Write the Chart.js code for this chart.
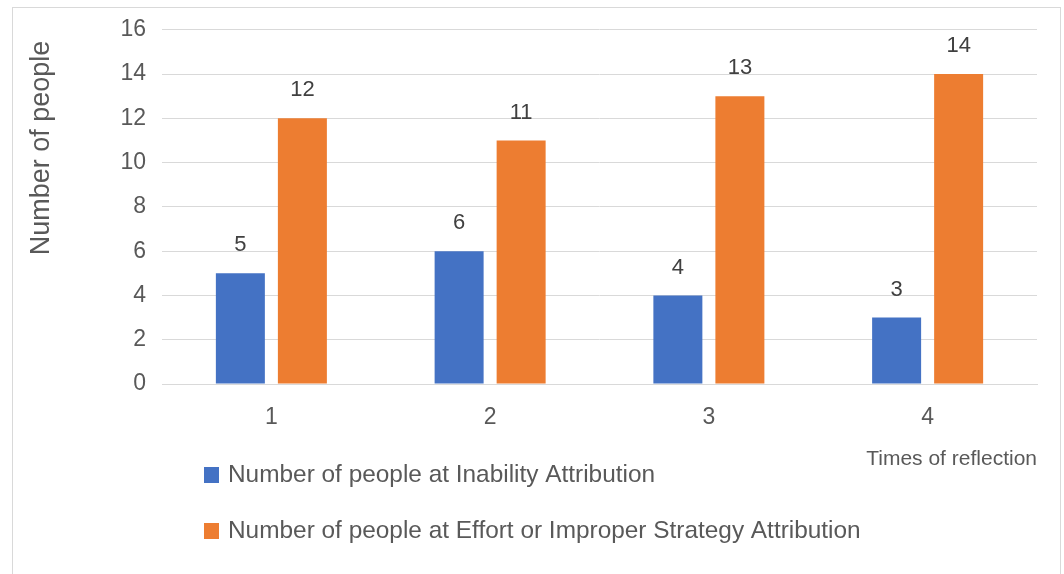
<!DOCTYPE html>
<html>
<head>
<meta charset="utf-8">
<script src="https://cdn.jsdelivr.net/npm/chart.js@4"></script>
<style>
  html, body { margin: 0; padding: 0; background: #fff; overflow: hidden; }
  #frame { position: absolute; left: 12px; top: 7px; width: 1047px; height: 620px; border: 1px solid #d9d9d9; }
  #wrap { position: absolute; left: 0; top: 0; width: 1064px; height: 574px; }
</style>
</head>
<body>
<div id="frame"></div>
<div id="wrap"><canvas id="chart" width="1064" height="574"></canvas></div>
<script>
const categories = ["1", "2", "3", "4"];
const inability = [5, 6, 4, 3];
const effort = [12, 11, 13, 14];
const seriesNames = [
  "Number of people at Inability Attribution",
  "Number of people at Effort or Improper Strategy Attribution"
];
const seriesColors = ["#4472C4", "#ED7D31"];
const yTitle = "Number of people";
const xTitle = "Times of reflection";

const FONT = "'Liberation Sans', Arial, Helvetica, sans-serif";

// value labels above bars, y title and legend drawn by hand
const extras = {
  id: "extras",
  afterDatasetsDraw(chart) {
    const ctx = chart.ctx;
    ctx.save();
    ctx.font = "22px " + FONT;
    ctx.fillStyle = "#404040";
    ctx.textAlign = "center";
    ctx.textBaseline = "middle";
    chart.data.datasets.forEach((ds, i) => {
      chart.getDatasetMeta(i).data.forEach((bar, j) => {
        ctx.fillText(ds.data[j], bar.x, bar.y - 28);
      });
    });
    ctx.restore();
  },
  afterDraw(chart) {
    const ctx = chart.ctx;
    ctx.save();
    // y axis title
    ctx.font = "27px " + FONT;
    ctx.fillStyle = "#595959";
    ctx.translate(42, 148);
    ctx.rotate(-Math.PI / 2);
    ctx.textAlign = "center";
    ctx.textBaseline = "middle";
    ctx.fillText(yTitle, 0, 0);
    ctx.restore();

    // legend
    ctx.save();
    ctx.font = "24.4px " + FONT;
    ctx.textBaseline = "middle";
    ctx.textAlign = "left";
    chart.data.datasets.forEach((ds, i) => {
      const y = 475 + i * 56;
      ctx.fillStyle = ds.backgroundColor;
      ctx.fillRect(204, y - 8, 15, 16);
      ctx.fillStyle = "#595959";
      ctx.fillText(ds.label, 228, y);
    });
    ctx.restore();
  }
};

new Chart(document.getElementById("chart"), {
  type: "bar",
  data: {
    labels: categories,
    datasets: [
      { label: seriesNames[0], data: inability, backgroundColor: seriesColors[0] },
      { label: seriesNames[1], data: effort, backgroundColor: seriesColors[1] }
    ]
  },
  options: {
    responsive: false,
    animation: false,
    devicePixelRatio: 1,
    layout: { padding: { left: 20, top: 28, right: 27, bottom: 102 } },
    datasets: { bar: { categoryPercentage: 0.567, barPercentage: 0.79 } },
    plugins: {
      legend: { display: false },
      tooltip: { enabled: false }
    },
    scales: {
      x: {
        grid: { display: false },
        border: { color: "#d9d9d9", width: 1 },
        ticks: { color: "#595959", font: { family: FONT, size: 23 }, padding: 12 },
        title: {
          display: true, text: xTitle, align: "end",
          color: "#595959", font: { family: FONT, size: 21 }, padding: { top: 0, bottom: 0 }
        },
        afterFit(scale) { scale.height = 88; }
      },
      y: {
        min: 0, max: 16,
        grid: { color: "#d9d9d9", drawTicks: false },
        border: { display: false },
        ticks: { stepSize: 2, color: "#595959", font: { family: FONT, size: 23 }, padding: 16 },
        afterFit(scale) { scale.width = 142; }
      }
    }
  },
  plugins: [extras]
});
</script>
</body>
</html>
